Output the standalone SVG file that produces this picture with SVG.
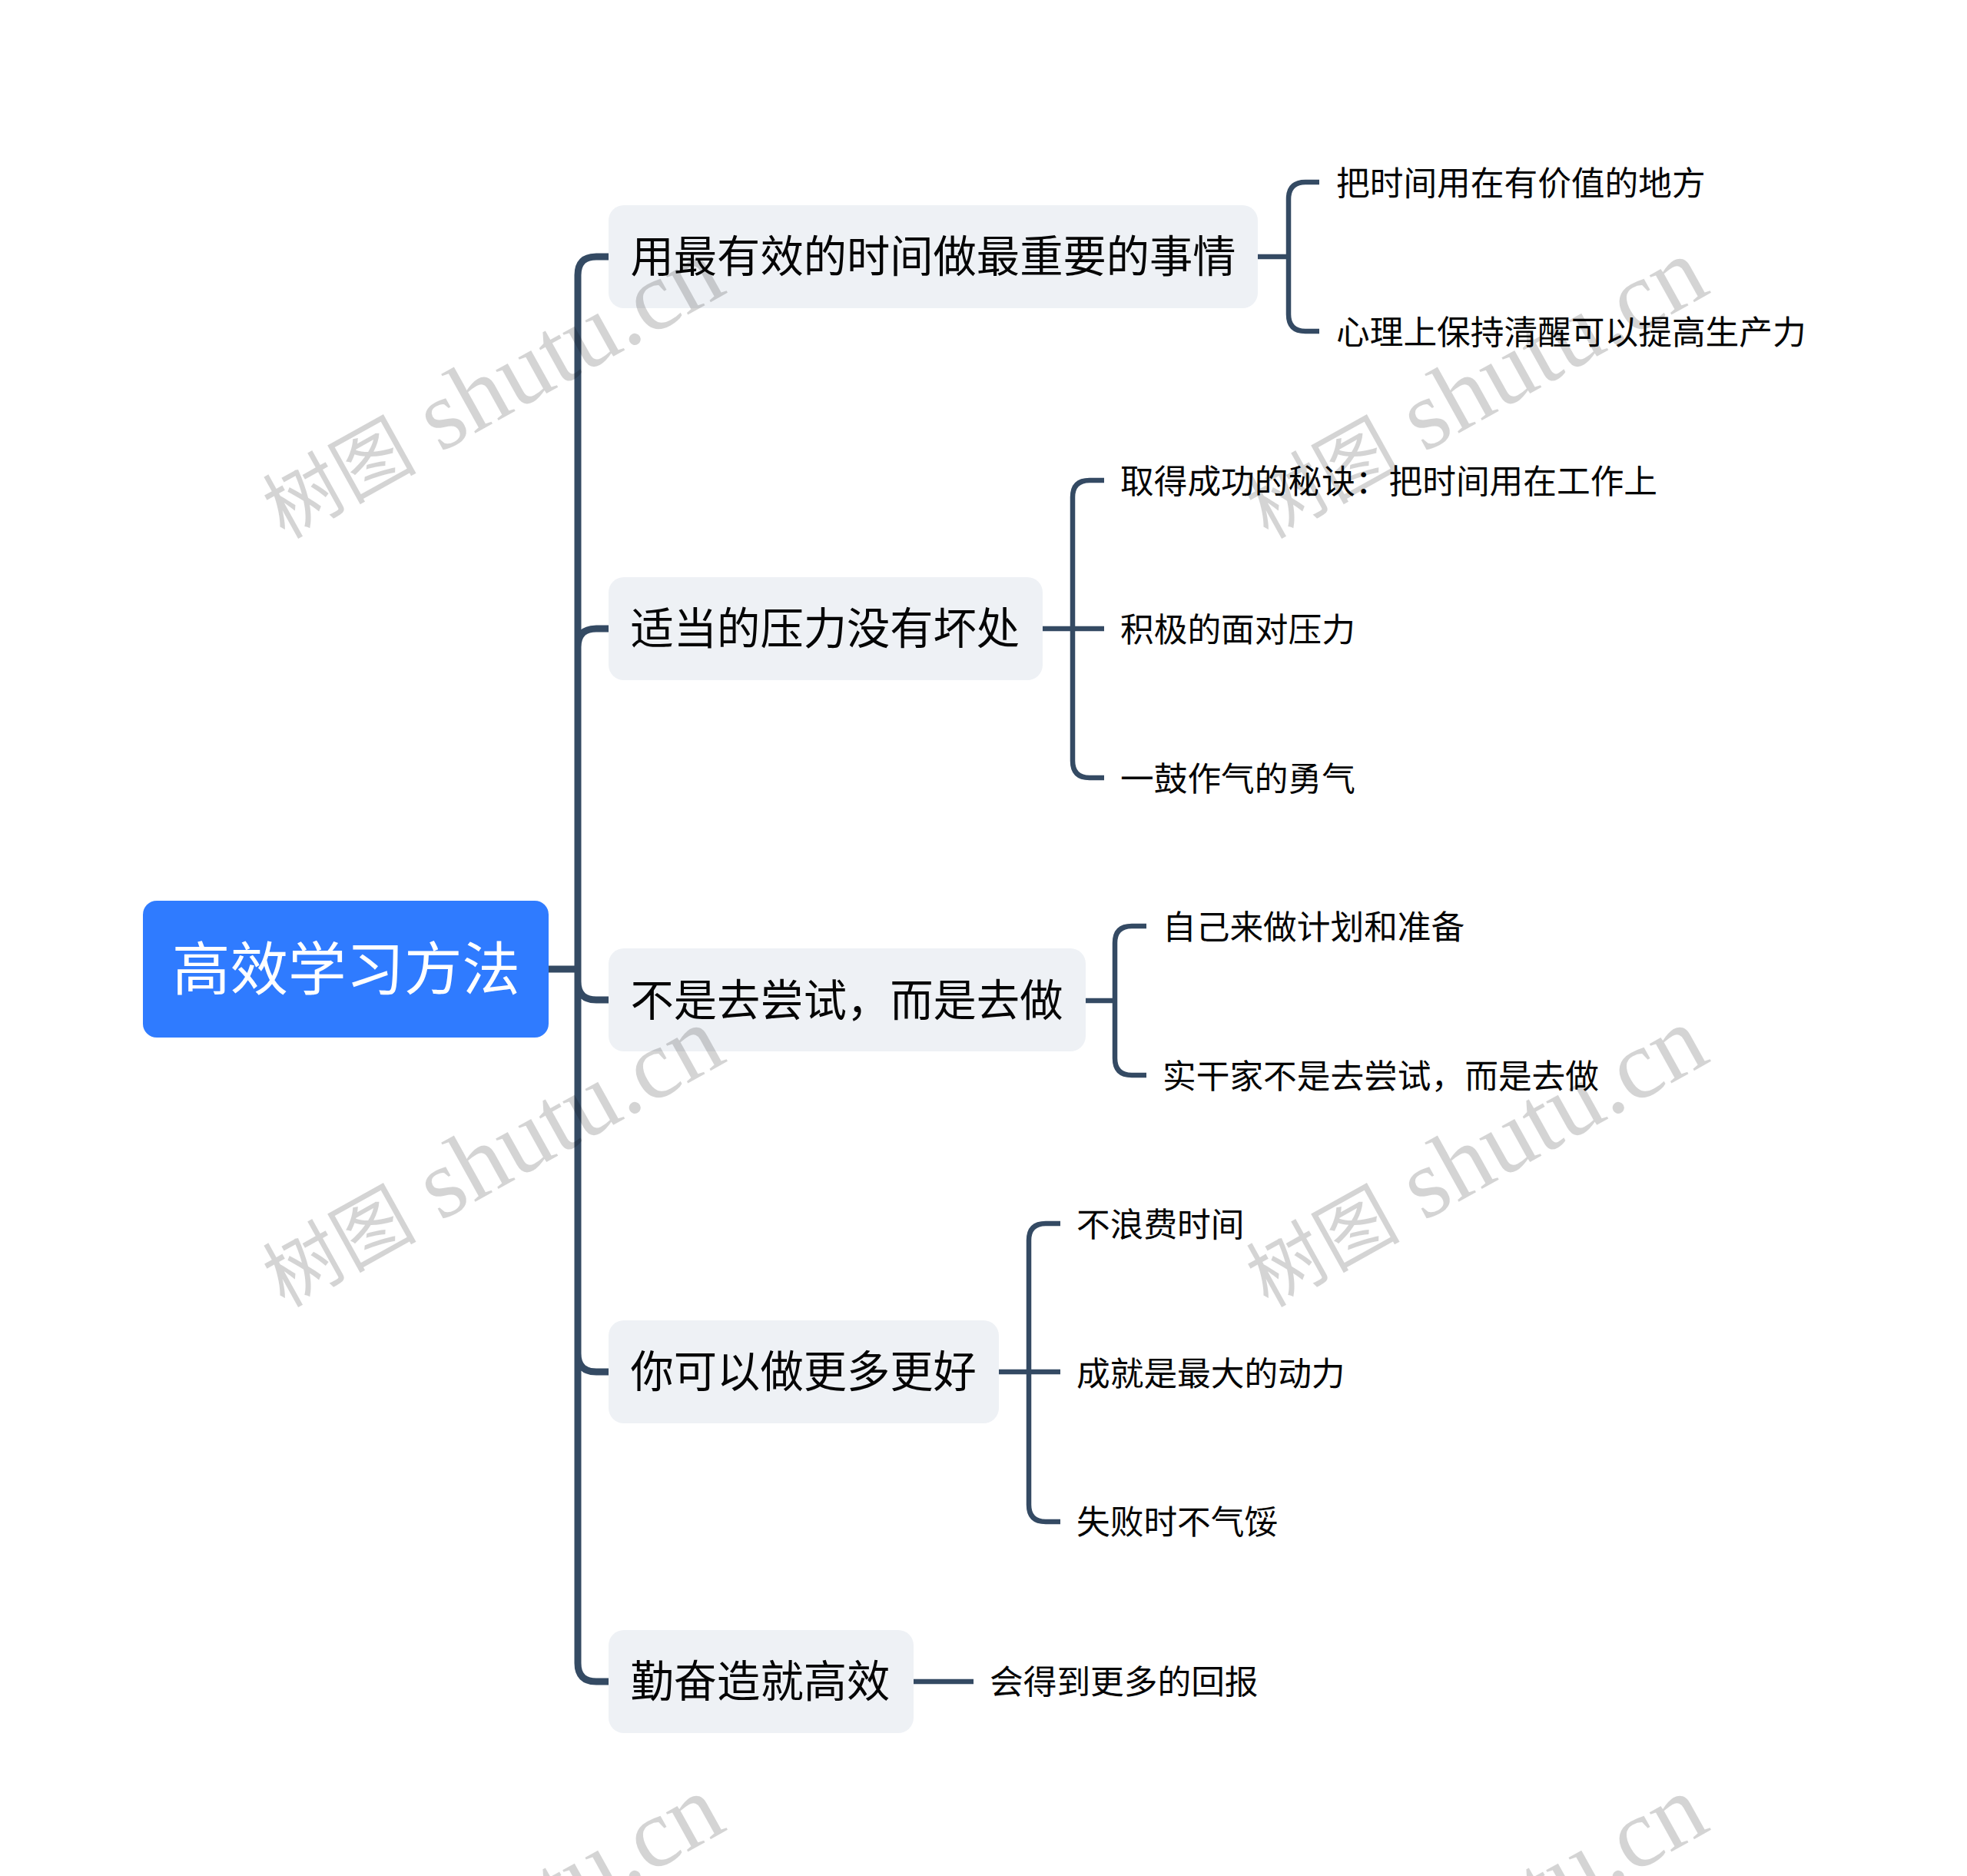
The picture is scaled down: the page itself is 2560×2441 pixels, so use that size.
<svg xmlns="http://www.w3.org/2000/svg" width="2560" height="2441" viewBox="0 0 2560 2441">
<style>
text{font-family:"Noto Sans CJK SC","Noto Sans",sans-serif}
.root{fill:#2f7bff}
.rt{fill:#fff;font-size:75.5px}
.b{fill:#eef1f5}
.bt{fill:#050505;font-size:56.3px}
.ct{fill:#050505;font-size:43.7px}
.trunk{fill:none;stroke:#344a63;stroke-width:9}
.l{fill:none;stroke:#344a63;stroke-width:6.5}
.wm{font-family:"Liberation Serif",serif;font-size:128px;fill:#000;fill-opacity:.17}
.wc{font-family:"Noto Sans CJK SC",sans-serif;font-size:100px}
</style>
<defs>
<text id="mark" class="wm"><tspan class="wc">树图</tspan> shutu.cn</text>
</defs>
<rect width="2560" height="2441" fill="#fff"/>
<g id="connectors">
<path class="trunk" d="M713 1261H752M793 334H776Q752 334 752 358V2164Q752 2188 776 2188H793M752 842Q752 818 776 818H793M752 1277Q752 1301 776 1301H793M752 1761Q752 1785 776 1785H793"/>
<path class="l" d="M1637 334H1677M1717 237H1699Q1677 237 1677 259V409Q1677 431 1699 431H1717"/>
<path class="l" d="M1357 818H1437M1437 625H1418Q1396 625 1396 647V990Q1396 1012 1418 1012H1437"/>
<path class="l" d="M1412 1302H1451M1492 1205H1473Q1451 1205 1451 1227V1377Q1451 1399 1473 1399H1492"/>
<path class="l" d="M1300 1785H1380M1380 1592H1361Q1339 1592 1339 1614V1958Q1339 1980 1361 1980H1380"/>
<path class="l" d="M1189 2188H1267"/>
</g>
<g id="root"><rect class="root" x="186" y="1172" width="528" height="178" rx="18"/><text class="rt" x="224" y="1288">高效学习方法</text></g>
<g id="n1"><rect class="b" x="792" y="267" width="845" height="134" rx="20"/><text class="bt" x="820.5" y="354">用最有效的时间做最重要的事情</text></g>
<g id="n1a"><text class="ct" x="1739" y="253.5">把时间用在有价值的地方</text></g>
<g id="n1b"><text class="ct" x="1739" y="447.5">心理上保持清醒可以提高生产力</text></g>
<g id="n2"><rect class="b" x="792" y="751" width="565" height="134" rx="20"/><text class="bt" x="820.5" y="838">适当的压力没有坏处</text></g>
<g id="n2a"><text class="ct" x="1458" y="641.5">取得成功的秘诀：把时间用在工作上</text></g>
<g id="n2b"><text class="ct" x="1458" y="834.5">积极的面对压力</text></g>
<g id="n2c"><text class="ct" x="1458" y="1028.5">一鼓作气的勇气</text></g>
<g id="n3"><rect class="b" x="792" y="1234" width="621" height="134" rx="20"/><text class="bt" x="820.5" y="1322">不是去尝试，而是去做</text></g>
<g id="n3a"><text class="ct" x="1513" y="1221.5">自己来做计划和准备</text></g>
<g id="n3b"><text class="ct" x="1513" y="1415.5">实干家不是去尝试，而是去做</text></g>
<g id="n4"><rect class="b" x="792" y="1718" width="508" height="134" rx="20"/><text class="bt" x="820.5" y="1805">你可以做更多更好</text></g>
<g id="n4a"><text class="ct" x="1401" y="1609">不浪费时间</text></g>
<g id="n4b"><text class="ct" x="1401" y="1802.5">成就是最大的动力</text></g>
<g id="n4c"><text class="ct" x="1401" y="1995.5">失败时不气馁</text></g>
<g id="n5"><rect class="b" x="792" y="2121" width="397" height="134" rx="20"/><text class="bt" x="820.5" y="2208">勤奋造就高效</text></g>
<g id="n5a"><text class="ct" x="1288" y="2204">会得到更多的回报</text></g>
<g id="watermark">
<use href="#mark" transform="translate(370 702) rotate(-29.1)"/>
<use href="#mark" transform="translate(1650 702) rotate(-29.1)"/>
<use href="#mark" transform="translate(370 1702) rotate(-29.1)"/>
<use href="#mark" transform="translate(1650 1702) rotate(-29.1)"/>
<use href="#mark" transform="translate(370 2702) rotate(-29.1)"/>
<use href="#mark" transform="translate(1650 2702) rotate(-29.1)"/>
</g>
</svg>
